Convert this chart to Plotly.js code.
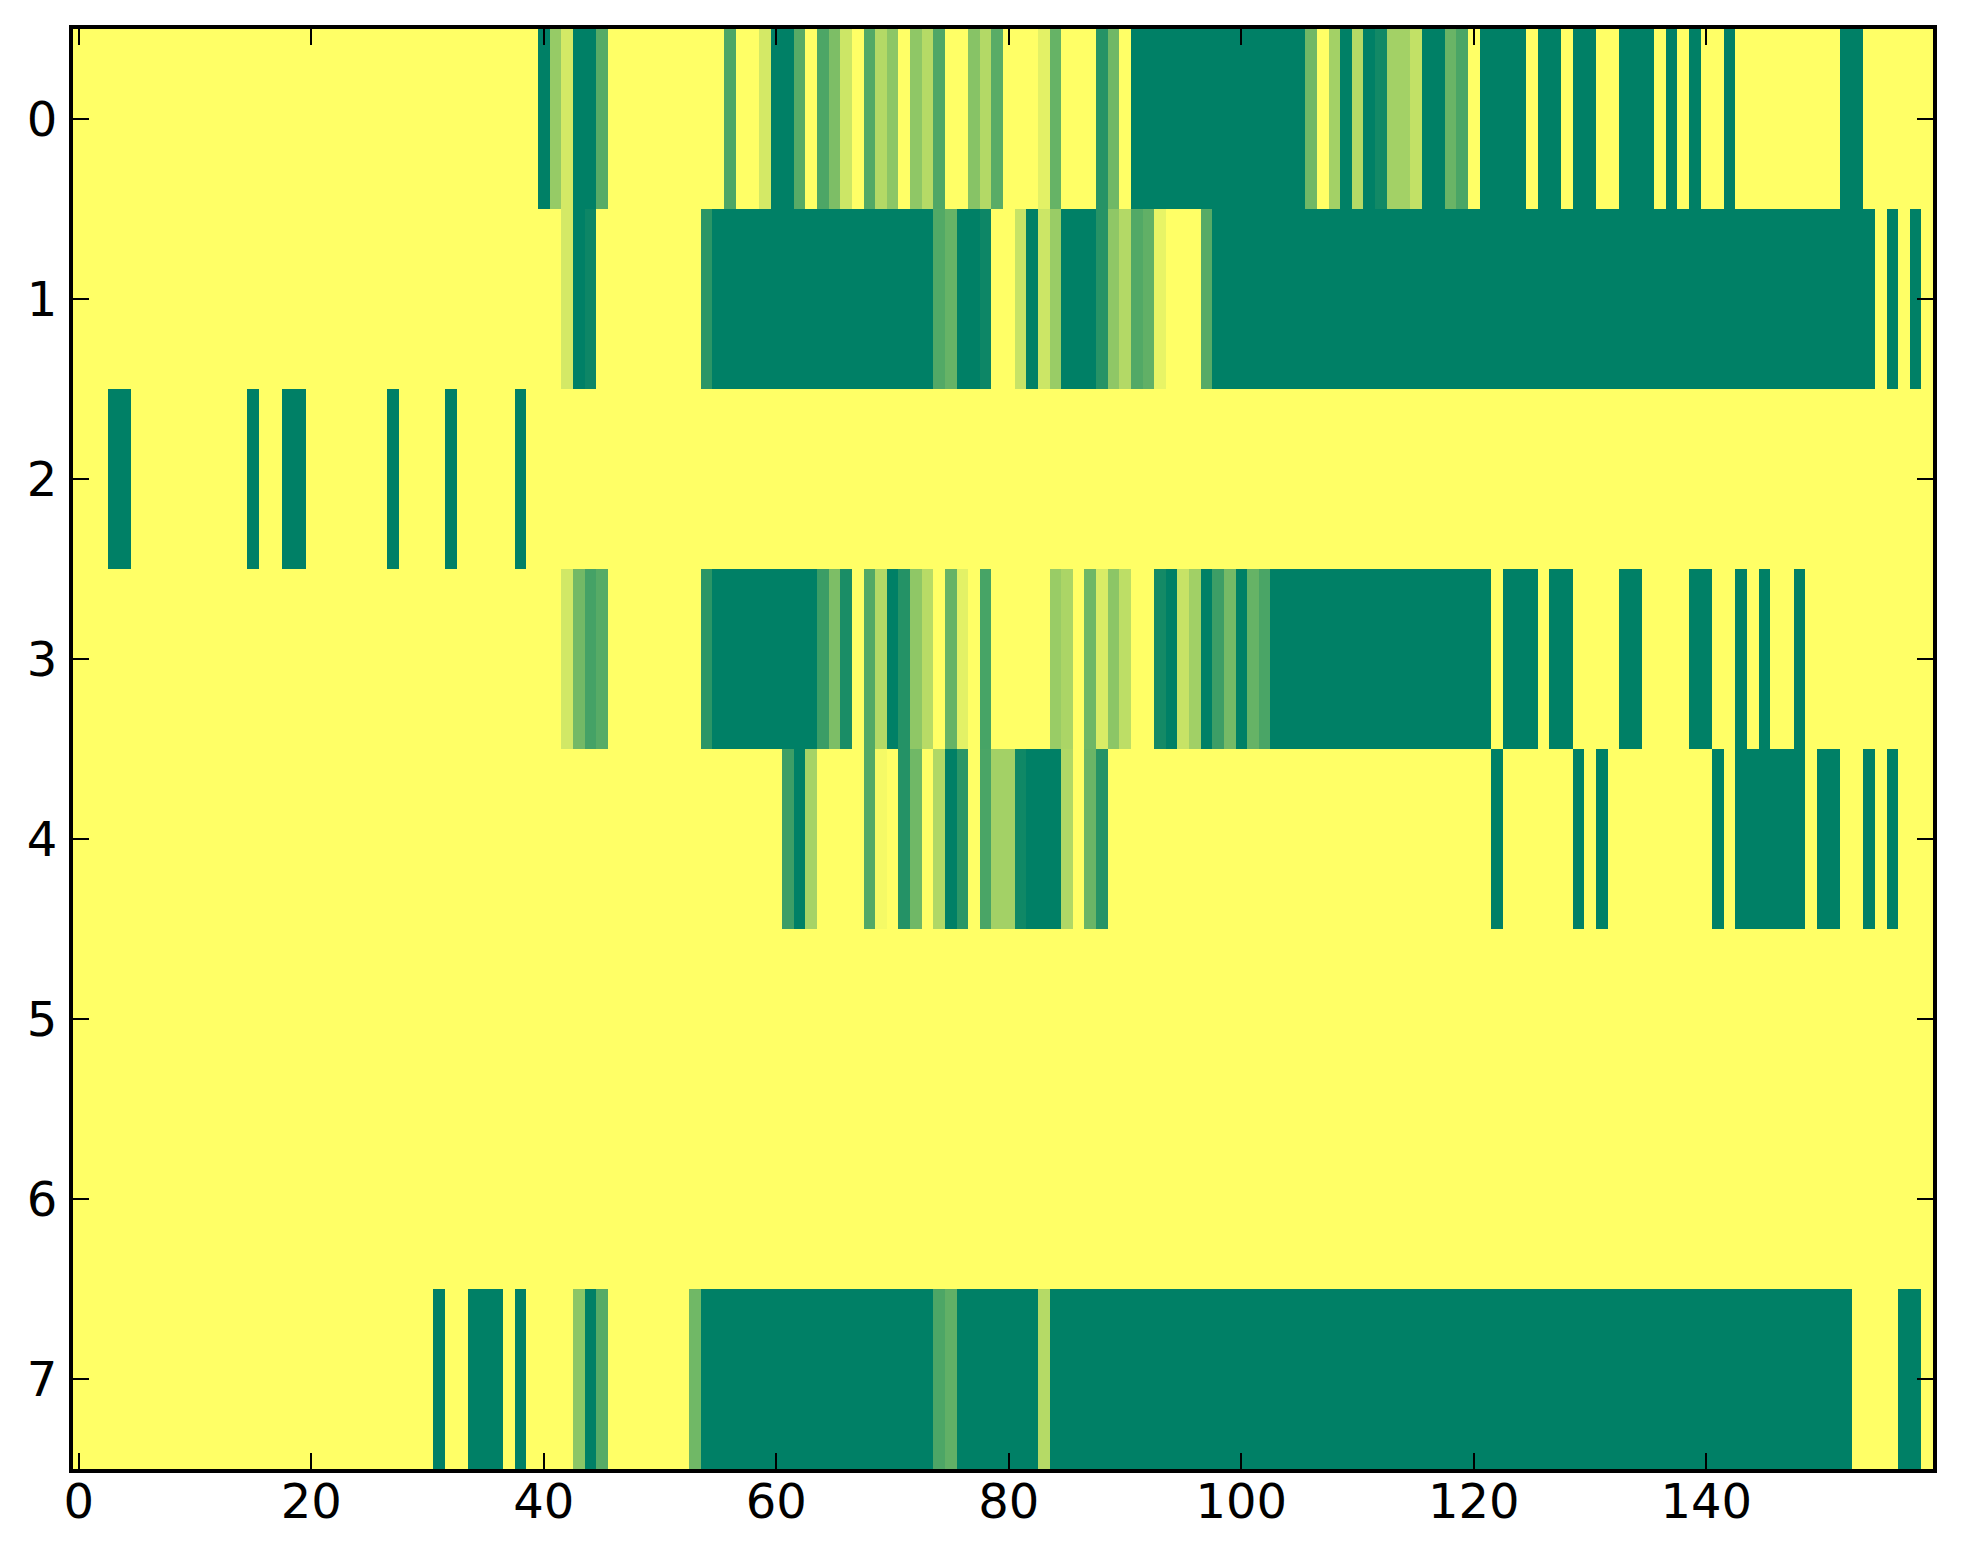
<!DOCTYPE html>
<html>
<head>
<meta charset="utf-8">
<script src="https://cdn.plot.ly/plotly-3.0.1.min.js"></script>
<style>html,body{margin:0;padding:0;background:#fff;}#chart{width:1963px;height:1564px;}</style>
</head>
<body>
<div id="chart"></div>
<script>
// Values per row (0 = dark green, 1 = yellow), 160 columns each
const row0 = [
1,1,1,1,1,1,1,1,1,1, 1,1,1,1,1,1,1,1,1,1,
1,1,1,1,1,1,1,1,1,1, 1,1,1,1,1,1,1,1,1,1,
0,0.59,0.83,0,0,0.34,1,1,1,1, 1,1,1,1,1,1,0.30,1,1,0.83,
0,0,0.34,1,0.30,0.49,0.80,1,0.32,0.70, 0.55,1,0.56,0.71,0.31,1,1,0.53,0.70,0.35,
1,1,1,0.89,0.40,1,1,1,0.15,0.44, 1,0,0,0,0,0,0,0,0,0,
0,0,0,0,0,0,0.44,1,0.64,0, 0.71,0,0.07,0.64,0.64,0.76,0,0,0.41,0.29,
1,0,0,0,0,1,0,0,1,0, 0,1,1,0,0,0,1,0,1,0,
1,1,0,1,1,1,1,1,1,1, 1,1,0,0,1,1,1,1,1,1
];
const row1 = [
1,1,1,1,1,1,1,1,1,1, 1,1,1,1,1,1,1,1,1,1,
1,1,1,1,1,1,1,1,1,1, 1,1,1,1,1,1,1,1,1,1,
1,1,0.83,0,0.05,1,1,1,1,1, 1,1,1,1,0.17,0,0,0,0,0,
0,0,0,0,0,0,0,0,0,0, 0,0,0,0,0.32,0.40,0,0,0.05,1,
1,0.78,0,0.80,0.60,0,0,0,0.15,0.56, 0.70,0.32,0.38,0.91,1,1,1,0.34,0,0,
0,0,0,0,0,0,0,0,0,0, 0,0,0,0,0,0,0,0,0,0,
0,0,0,0,0,0,0,0,0,0, 0,0,0,0,0,0,0,0,0,0,
0,0,0,0,0,0,0,0,0,0, 0,0,0,0,0,1,0,1,0,1
];
const row2 = [
1,1,1,0,0,1,1,1,1,1, 1,1,1,1,1,0,1,1,0,0,
1,1,1,1,1,1,1,0,1,1, 1,1,0,1,1,1,1,1,0,1,
1,1,1,1,1,1,1,1,1,1, 1,1,1,1,1,1,1,1,1,1,
1,1,1,1,1,1,1,1,1,1, 1,1,1,1,1,1,1,1,1,1,
1,1,1,1,1,1,1,1,1,1, 1,1,1,1,1,1,1,1,1,1,
1,1,1,1,1,1,1,1,1,1, 1,1,1,1,1,1,1,1,1,1,
1,1,1,1,1,1,1,1,1,1, 1,1,1,1,1,1,1,1,1,1,
1,1,1,1,1,1,1,1,1,1, 1,1,1,1,1,1,1,1,1,1
];
const row3 = [
1,1,1,1,1,1,1,1,1,1, 1,1,1,1,1,1,1,1,1,1,
1,1,1,1,1,1,1,1,1,1, 1,1,1,1,1,1,1,1,1,1,
1,1,0.82,0.45,0.27,0.34,1,1,1,1, 1,1,1,1,0.17,0,0,0,0,0,
0,0,0,0,0.23,0.49,0.10,1,0.32,0.70, 0,0.14,0.56,0.72,1,0.40,0.89,1,0.28,1,
1,1,1,1,0.60,0.67,1,0.43,0.85,0.55, 0.74,1,1,0.08,0,0.78,0.63,0,0.24,0.46,
0,0.40,0.29,0,0,0,0,0,0,0, 0,0,0,0,0,0,0,0,0,0,
0,0,1,0,0,0,1,0,0,1, 1,1,1,0,0,1,1,1,1,0,
0,1,1,0,1,0,1,1,0,1, 1,1,1,1,1,1,1,1,1,1
];
const row4 = [
1,1,1,1,1,1,1,1,1,1, 1,1,1,1,1,1,1,1,1,1,
1,1,1,1,1,1,1,1,1,1, 1,1,1,1,1,1,1,1,1,1,
1,1,1,1,1,1,1,1,1,1, 1,1,1,1,1,1,1,1,1,1,
1,0.24,0,0.65,1,1,1,1,0.32,0.96, 1,0.14,0.44,1,0.69,0,0.17,1,0.29,0.64,
0.64,0.06,0,0,0,0.69,1,0.42,0.15,1, 1,1,1,1,1,1,1,1,1,1,
1,1,1,1,1,1,1,1,1,1, 1,1,1,1,1,1,1,1,1,1,
1,1,0,1,1,1,1,1,1,0, 1,0,1,1,1,1,1,1,1,1,
1,0,1,0,0,0,0,0,0,1, 0,0,1,1,0,1,0,1,1,1
];
const row5 = [
1,1,1,1,1,1,1,1,1,1, 1,1,1,1,1,1,1,1,1,1,
1,1,1,1,1,1,1,1,1,1, 1,1,1,1,1,1,1,1,1,1,
1,1,1,1,1,1,1,1,1,1, 1,1,1,1,1,1,1,1,1,1,
1,1,1,1,1,1,1,1,1,1, 1,1,1,1,1,1,1,1,1,1,
1,1,1,1,1,1,1,1,1,1, 1,1,1,1,1,1,1,1,1,1,
1,1,1,1,1,1,1,1,1,1, 1,1,1,1,1,1,1,1,1,1,
1,1,1,1,1,1,1,1,1,1, 1,1,1,1,1,1,1,1,1,1,
1,1,1,1,1,1,1,1,1,1, 1,1,1,1,1,1,1,1,1,1
];
const row6 = [
1,1,1,1,1,1,1,1,1,1, 1,1,1,1,1,1,1,1,1,1,
1,1,1,1,1,1,1,1,1,1, 1,1,1,1,1,1,1,1,1,1,
1,1,1,1,1,1,1,1,1,1, 1,1,1,1,1,1,1,1,1,1,
1,1,1,1,1,1,1,1,1,1, 1,1,1,1,1,1,1,1,1,1,
1,1,1,1,1,1,1,1,1,1, 1,1,1,1,1,1,1,1,1,1,
1,1,1,1,1,1,1,1,1,1, 1,1,1,1,1,1,1,1,1,1,
1,1,1,1,1,1,1,1,1,1, 1,1,1,1,1,1,1,1,1,1,
1,1,1,1,1,1,1,1,1,1, 1,1,1,1,1,1,1,1,1,1
];
const row7 = [
1,1,1,1,1,1,1,1,1,1, 1,1,1,1,1,1,1,1,1,1,
1,1,1,1,1,1,1,1,1,1, 1,0,1,1,0,0,0,1,0,1,
1,1,1,0.55,0,0.34,1,1,1,1, 1,1,1,0.44,0,0,0,0,0,0,
0,0,0,0,0,0,0,0,0,0, 0,0,0,0,0.30,0.38,0,0,0,0,
0,0,0,0.71,0,0,0,0,0,0, 0,0,0,0,0,0,0,0,0,0,
0,0,0,0,0,0,0,0,0,0, 0,0,0,0,0,0,0,0,0,0,
0,0,0,0,0,0,0,0,0,0, 0,0,0,0,0,0,0,0,0,0,
0,0,0,0,0,0,0,0,0,0, 0,0,0,1,1,1,1,0,0,1
];
const rowLabels = [0, 1, 2, 3, 4, 5, 6, 7];
const xTicks = [0, 20, 40, 60, 80, 100, 120, 140];

const z = [row0, row1, row2, row3, row4, row5, row6, row7];
const cols = row0.map((_, i) => i);

const font = {family: 'DejaVu Sans', size: 48, color: '#000'};
const axisCommon = {
  ticks: 'inside', ticklen: 16, tickwidth: 2, tickcolor: '#000',
  showline: true, linewidth: 4, linecolor: '#000', mirror: 'ticks',
  showgrid: false, zeroline: false, tickfont: font
};

Plotly.newPlot('chart', [{
  type: 'heatmap',
  z: z, x: cols, y: rowLabels,
  colorscale: [[0, 'rgb(0,128,102)'], [1, 'rgb(255,255,102)']],
  zmin: 0, zmax: 1, showscale: false, zsmooth: false, hoverinfo: 'skip'
}], {
  width: 1963, height: 1564,
  margin: {l: 73, r: 30, t: 29, b: 95, pad: 0},
  paper_bgcolor: '#fff', plot_bgcolor: '#fff',
  showlegend: false,
  xaxis: Object.assign({}, axisCommon, {range: [-0.5, 159.5], tickvals: xTicks, ticktext: xTicks.map(String), ticklabelstandoff: -13}),
  yaxis: Object.assign({}, axisCommon, {range: [7.5, -0.5], tickvals: rowLabels, ticktext: rowLabels.map(String), ticklabelstandoff: 2})
}, {displayModeBar: false, staticPlot: true});
</script>
</body>
</html>
